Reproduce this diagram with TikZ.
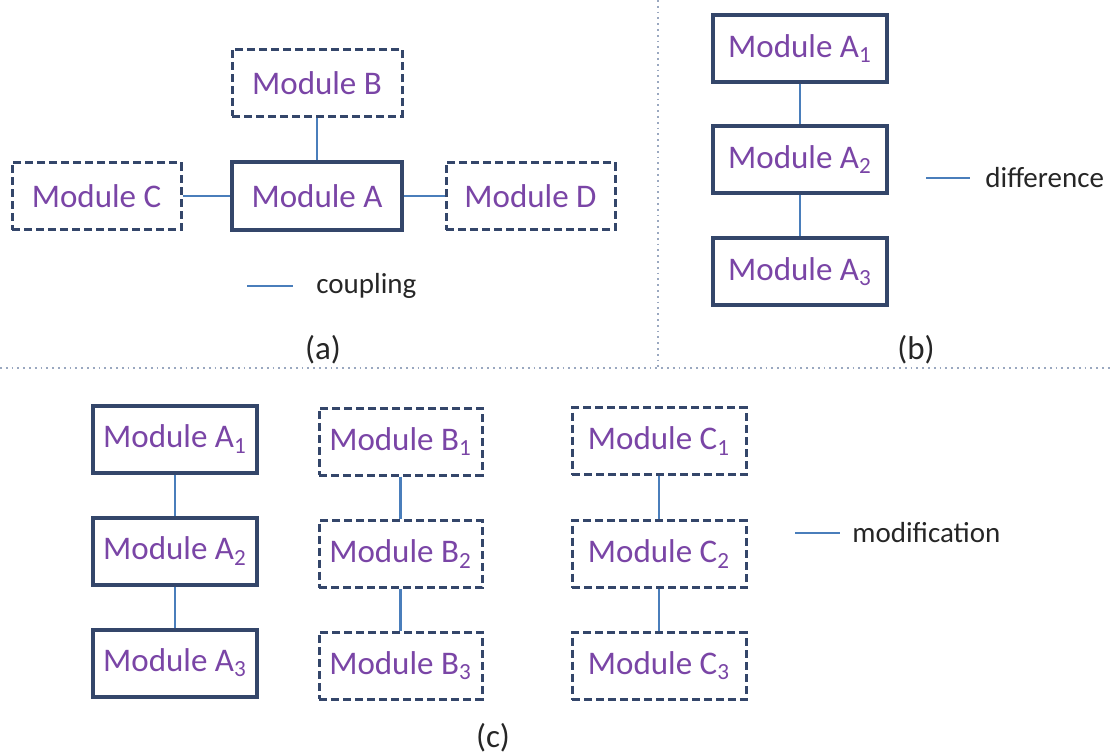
\documentclass[tikz,border=0pt]{standalone}
\usepackage{fontspec}
\setmainfont{Carlito}
\usepackage{tikz}
\usetikzlibrary{positioning}
\definecolor{modtext}{HTML}{7A45A6}
\definecolor{modedge}{HTML}{34466A}
\definecolor{linkblue}{HTML}{4A7EBB}
\definecolor{sepgray}{HTML}{9AA8C0}
\tikzset{
modbox/.style={
	rectangle,
	minimum width=85pt,
	minimum height=33.5pt,
	text centered,
	draw=modedge,
	line width=2pt,
	fill=white,
	text=modtext,
	font=\fontsize{16.5}{20}\selectfont,
	inner sep=2pt
},
dashbox/.style={
	modbox,
	line width=1.5pt,
	dash pattern=on 4pt off 2pt
},
link/.style={
	draw=linkblue,
	line width=1.4pt
},
legend/.style={
	anchor=west,
	text=black!85,
	font=\fontsize{14.5}{18}\selectfont,
	inner sep=0pt
},
sublabel/.style={
	text=black!85,
	font=\fontsize{16.5}{20}\selectfont
},
sepline/.style={
	draw=sepgray,
	line width=0.9pt,
	dotted
}
}

\begin{document}
\begin{tikzpicture}[x=0.5pt, y=-0.5pt]
\useasboundingbox (0,0) rectangle (1111,754);
% ===== Separators =====
\draw [sepline] (0,368)   -- (1111,368);
\draw [sepline] (658,0)   -- (658,368);

% ===== (a) coupling =====
\node (mB) [dashbox, minimum width=85pt] at (317, 83)    {Module B};
\node (mA) [modbox,  minimum width=85pt] at (317, 196)   {Module A};
\node (mC) [dashbox, minimum width=84.5pt] at (96.5, 196) {Module C};
\node (mD) [dashbox, minimum width=84.5pt] at (530.5, 196) {Module D};
\draw [link] (mB) -- (mA);
\draw [link] (mC) -- (mA);
\draw [link] (mA) -- (mD);
% legend
\coordinate (cplL) at (247,286);
\coordinate (cplR) at (293,286);
\draw [link] (cplL) -- (cplR);
\node (cpl) [legend] at (316,286) {coupling};
\node (capa) [sublabel] at (323,350) {(a)};

% ===== (b) difference =====
\node (bA1) [modbox, minimum width=87pt] at (800, 48.5)  {Module A\textsubscript{1}};
\node (bA2) [modbox, minimum width=87pt] at (800, 159.5) {Module A\textsubscript{2}};
\node (bA3) [modbox, minimum width=87pt] at (800, 271.5) {Module A\textsubscript{3}};
\draw [link] (bA1) -- (bA2);
\draw [link] (bA2) -- (bA3);
% legend
\coordinate (difL) at (926,178);
\coordinate (difR) at (970,178);
\draw [link] (difL) -- (difR);
\node (dif) [legend] at (985,178) {difference};
\node (capb) [sublabel] at (916,350) {(b)};

% ===== (c) modification =====
\node (cA1) [modbox,  minimum width=82pt] at (175, 439)   {Module A\textsubscript{1}};
\node (cA2) [modbox,  minimum width=82pt] at (175, 551)   {Module A\textsubscript{2}};
\node (cA3) [modbox,  minimum width=82pt] at (175, 663)   {Module A\textsubscript{3}};
\node (cB1) [dashbox, minimum width=81.5pt] at (400.5, 441.5) {Module B\textsubscript{1}};
\node (cB2) [dashbox, minimum width=81.5pt] at (400.5, 554)   {Module B\textsubscript{2}};
\node (cB3) [dashbox, minimum width=81.5pt] at (400.5, 665.5) {Module B\textsubscript{3}};
\node (cC1) [dashbox, minimum width=87pt] at (659, 441)   {Module C\textsubscript{1}};
\node (cC2) [dashbox, minimum width=87pt] at (659, 554)   {Module C\textsubscript{2}};
\node (cC3) [dashbox, minimum width=87pt] at (659, 666)   {Module C\textsubscript{3}};
\foreach \col in {cA, cB, cC} {
	\draw [link] (\col1) -- (\col2);
	\draw [link] (\col2) -- (\col3);
}
% legend
\coordinate (modL) at (795,533);
\coordinate (modR) at (840,533);
\draw [link] (modL) -- (modR);
\node (mod) [legend] at (852,533) {modification};
\node (capc) [sublabel] at (493,738) {(c)};

\end{tikzpicture}
\end{document}
